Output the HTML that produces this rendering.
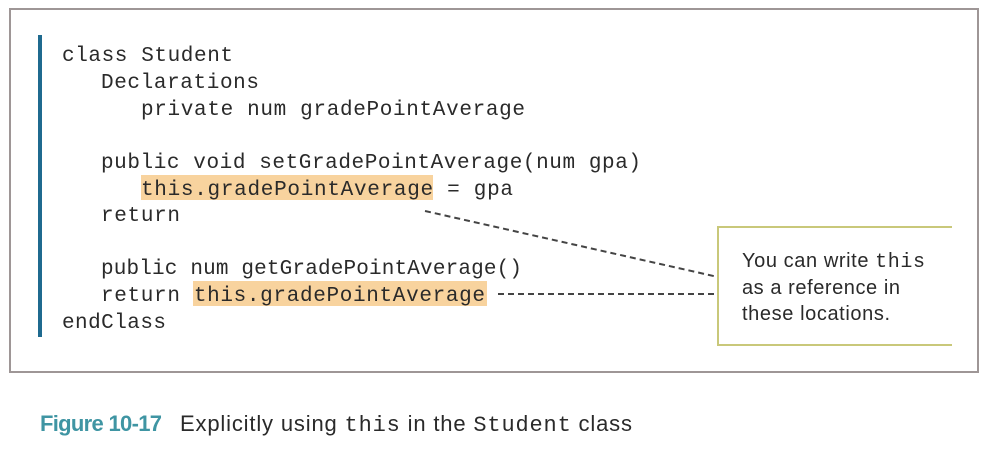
<!DOCTYPE html>
<html><head><meta charset="utf-8"><style>
html,body{margin:0;padding:0;background:#fff;}
svg{display:block}
.m{font-family:"Liberation Mono",monospace;font-size:21px;fill:#2a2a2a}
.s{font-family:"Liberation Sans",sans-serif;fill:#2a2a2a}
</style></head><body>
<svg width="989" height="454" xmlns="http://www.w3.org/2000/svg">
<rect x="10" y="9" width="968" height="363" fill="#fff" stroke="#9e9696" stroke-width="2"/>
<rect x="38" y="35" width="4" height="302" fill="#1f6a8f"/>
<rect x="141" y="175" width="292" height="25" fill="#f8d39e"/>
<rect x="193" y="281" width="294" height="25" fill="#f8d39e"/>
<text class="m" x="62" y="61" textLength="171">class Student</text>
<text class="m" x="101" y="88" textLength="158">Declarations</text>
<text class="m" x="141" y="115" textLength="384">private num gradePointAverage</text>
<text class="m" x="101" y="168" textLength="540">public void setGradePointAverage(num gpa)</text>
<text class="m" x="141" y="195" textLength="372">this.gradePointAverage = gpa</text>
<text class="m" x="101" y="221" textLength="79">return</text>
<text class="m" x="101" y="274" textLength="421">public num getGradePointAverage()</text>
<text class="m" x="101" y="301" textLength="384">return this.gradePointAverage</text>
<text class="m" x="62" y="328" textLength="104">endClass</text>
<line x1="425" y1="211" x2="718" y2="277" stroke="#444" stroke-width="2" stroke-dasharray="6,4"/>
<line x1="498" y1="294" x2="718" y2="294" stroke="#444" stroke-width="2" stroke-dasharray="6,4"/>
<polyline points="952,227 718,227 718,345 952,345" fill="none" stroke="#c9c87a" stroke-width="2"/>
<text class="s" x="742" y="267" font-size="20" textLength="183">You can write <tspan font-family="Liberation Mono, monospace">this</tspan></text>
<text class="s" x="742" y="294" font-size="20" textLength="158">as a reference in</text>
<text class="s" x="742" y="320" font-size="20" textLength="148">these locations.</text>
<text x="40" y="431" font-family="Liberation Sans, sans-serif" font-size="22" font-weight="bold" fill="#3f95a3" textLength="122">Figure 10-17</text>
<text class="s" x="180" y="431" font-size="22" textLength="452">Explicitly using <tspan font-family="Liberation Mono, monospace">this</tspan> in the <tspan font-family="Liberation Mono, monospace">Student</tspan> class</text>
</svg>
</body></html>
